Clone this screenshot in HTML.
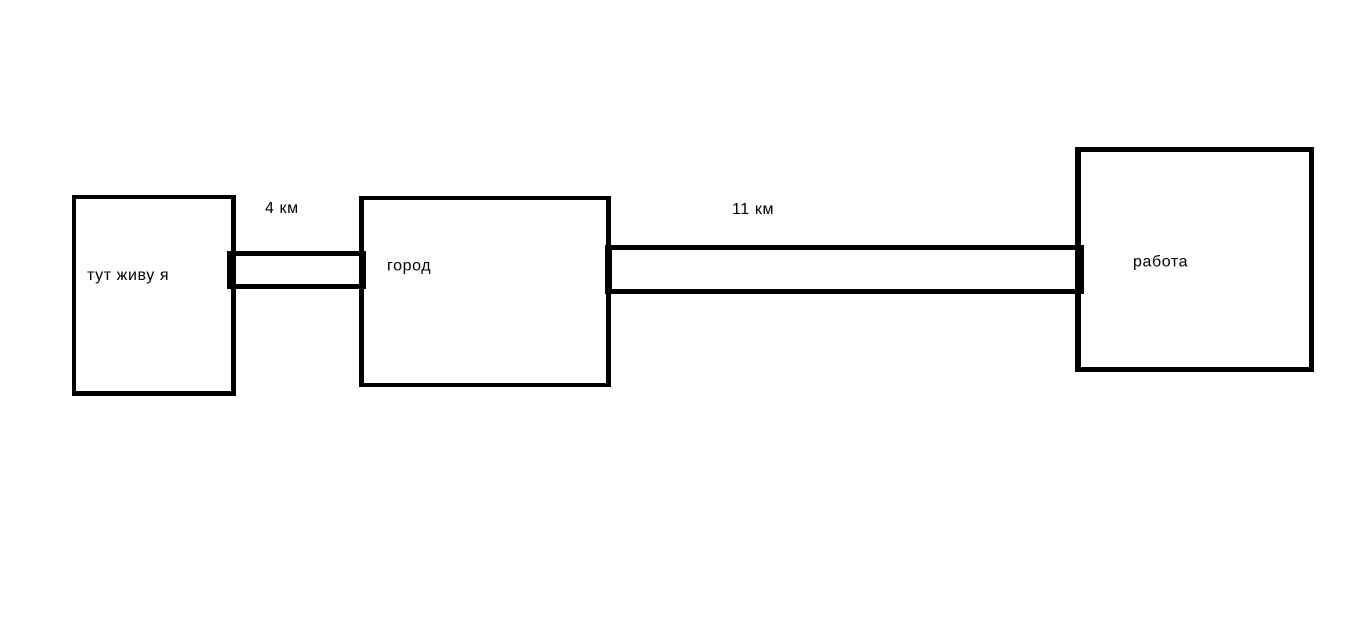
<!DOCTYPE html>
<html>
<head>
<meta charset="utf-8">
<style>
  html, body { margin:0; padding:0; background:#fff; }
  body { width:1365px; height:634px; overflow:hidden; }
  svg { display:block; }
  text { font-family: "Liberation Sans", "DejaVu Sans", sans-serif; font-size:16px; fill:#000; letter-spacing:0.6px; }
</style>
</head>
<body>
<svg width="1365" height="634" viewBox="0 0 1365 634" xmlns="http://www.w3.org/2000/svg">
  <rect x="0" y="0" width="1365" height="634" fill="#fff"/>
  <g fill="#000">
    <!-- Box 1 -->
    <rect x="72" y="195" width="164" height="4"/>
    <rect x="72" y="391" width="164" height="5"/>
    <rect x="72" y="195" width="4" height="201"/>
    <rect x="231" y="195" width="5" height="201"/>
    <!-- Box 2 -->
    <rect x="359" y="196" width="252" height="4"/>
    <rect x="359" y="383" width="252" height="4"/>
    <rect x="359" y="196" width="5" height="191"/>
    <rect x="606" y="196" width="5" height="191"/>
    <!-- Box 3 -->
    <rect x="1075" y="147" width="239" height="5"/>
    <rect x="1075" y="367" width="239" height="5"/>
    <rect x="1075" y="147" width="6" height="225"/>
    <rect x="1309" y="147" width="5" height="225"/>
    <!-- Connector 1 -->
    <rect x="227" y="251" width="139" height="5"/>
    <rect x="227" y="284" width="139" height="5"/>
    <rect x="227" y="251" width="9" height="38"/>
    <rect x="359" y="251" width="7" height="38"/>
    <!-- Connector 2 -->
    <rect x="605" y="245" width="479" height="5"/>
    <rect x="605" y="289" width="479" height="5"/>
    <rect x="605" y="245" width="7" height="49"/>
    <rect x="1076" y="245" width="8" height="49"/>
  </g>
  <text x="87" y="280">тут живу я</text>
  <text x="265" y="213">4 км</text>
  <text x="387" y="270.5">город</text>
  <text x="732" y="214">11 км</text>
  <text x="1133" y="266.5">работа</text>
</svg>
</body>
</html>
